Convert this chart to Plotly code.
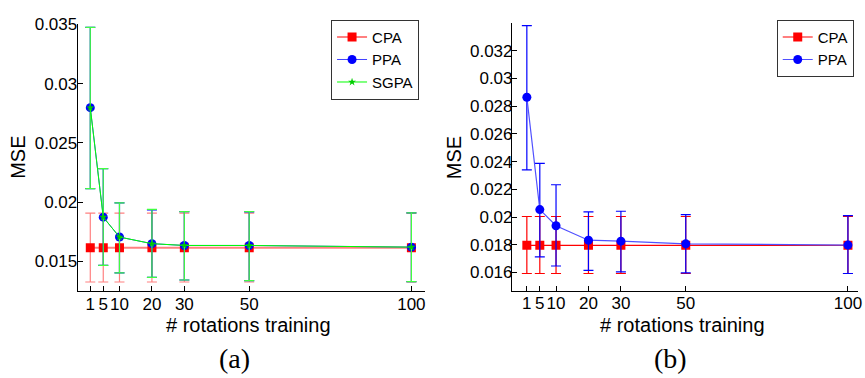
import plotly.graph_objects as go

rotations = [1, 5, 10, 20, 30, 50, 100]

# Panel (a)
a_cpa = [0.01615, 0.01615, 0.01615, 0.01615, 0.01615, 0.01615, 0.01615]
a_cpa_hi = [0.01907, 0.01907, 0.01907, 0.01907, 0.01907, 0.01907, 0.01907]
a_cpa_lo = [0.01327, 0.01327, 0.01327, 0.01327, 0.01327, 0.01327, 0.01327]
a_ppa = [0.02797, 0.01874, 0.01706, 0.01650, 0.01635, 0.01635, 0.01621]
a_ppa_hi = [0.03475, 0.02283, 0.01994, 0.01935, 0.01920, 0.01918, 0.01910]
a_ppa_lo = [0.02115, 0.01467, 0.01404, 0.01366, 0.01344, 0.01338, 0.01330]
a_sgpa = [0.02797, 0.01874, 0.01706, 0.01650, 0.01635, 0.01635, 0.01621]
a_sgpa_hi = [0.03475, 0.02283, 0.01994, 0.01940, 0.01920, 0.01920, 0.01910]
a_sgpa_lo = [0.02115, 0.01467, 0.01404, 0.01366, 0.01344, 0.01338, 0.01330]

# Panel (b)
b_cpa = [0.01796, 0.01796, 0.01796, 0.01796, 0.01796, 0.01796, 0.01796]
b_cpa_hi = [0.02004, 0.02004, 0.02004, 0.02004, 0.02004, 0.02004, 0.02004]
b_cpa_lo = [0.01593, 0.01593, 0.01593, 0.01593, 0.01593, 0.01593, 0.01593]
b_ppa = [0.02864, 0.02054, 0.01937, 0.01833, 0.01826, 0.01807, 0.01798]
b_ppa_hi = [0.03380, 0.02387, 0.02233, 0.02037, 0.02042, 0.02018, 0.02011]
b_ppa_lo = [0.02341, 0.01713, 0.01647, 0.01616, 0.01605, 0.01598, 0.01593]

a_yticks = [0.015, 0.02, 0.025, 0.03, 0.035]
a_yticktext = ["0.015", "0.02", "0.025", "0.03", "0.035"]
b_yticks = [0.016, 0.018, 0.02, 0.022, 0.024, 0.026, 0.028, 0.03, 0.032]
b_yticktext = ["0.016", "0.018", "0.02", "0.022", "0.024", "0.026", "0.028", "0.03", "0.032"]

FONT = "Liberation Sans, Arial, sans-serif"


def err(vals, hi, lo, color, width=5):
    return dict(
        type="data", symmetric=False,
        array=[h - v for h, v in zip(hi, vals)],
        arrayminus=[v - l for v, l in zip(vals, lo)],
        color=color, thickness=1.2, width=width,
    )


fig = go.Figure()

# ---- panel (a)
fig.add_trace(go.Scatter(
    x=rotations, y=a_cpa, name="CPA", mode="lines+markers",
    line=dict(color="#ff8080", width=2),
    marker=dict(symbol="square", size=9, color="#ff0000"),
    error_y=err(a_cpa, a_cpa_hi, a_cpa_lo, "#ff8080"),
    xaxis="x", yaxis="y", legend="legend",
))
fig.add_trace(go.Scatter(
    x=rotations, y=a_ppa, name="PPA", mode="lines+markers",
    line=dict(color="#4040ff", width=1),
    marker=dict(symbol="circle", size=9, color="#0000ff"),
    error_y=err(a_ppa, a_ppa_hi, a_ppa_lo, "#0000ff"),
    xaxis="x", yaxis="y", legend="legend",
))
fig.add_trace(go.Scatter(
    x=rotations, y=a_sgpa, name="SGPA", mode="lines+markers",
    line=dict(color="#00ff00", width=1),
    marker=dict(symbol="star", size=6, color="#00cc00"),
    error_y=err(a_sgpa, a_sgpa_hi, a_sgpa_lo, "#40ff40"),
    xaxis="x", yaxis="y", legend="legend",
))

# ---- panel (b)
fig.add_trace(go.Scatter(
    x=rotations, y=b_cpa, name="CPA", mode="lines+markers",
    line=dict(color="#ff0000", width=1.2),
    marker=dict(symbol="square", size=9, color="#ff0000"),
    error_y=err(b_cpa, b_cpa_hi, b_cpa_lo, "#ff0000"),
    xaxis="x2", yaxis="y2", legend="legend2",
))
fig.add_trace(go.Scatter(
    x=rotations, y=b_ppa, name="PPA", mode="lines+markers",
    line=dict(color="#5050ff", width=1.2),
    marker=dict(symbol="circle", size=9, color="#0000ff"),
    error_y=err(b_ppa, b_ppa_hi, b_ppa_lo, "#0000ff"),
    xaxis="x2", yaxis="y2", legend="legend2",
))

axis_common = dict(
    showline=True, linecolor="black", linewidth=1, mirror=False,
    showgrid=False, zeroline=False, ticks="inside", ticklen=5,
    tickcolor="black", tickwidth=1, ticklabeloverflow="allow",
    tickfont=dict(family=FONT, size=17, color="black"),
)

legend_common = dict(
    bgcolor="white", bordercolor="#333333", borderwidth=1,
    font=dict(family=FONT, size=15, color="black"),
    xanchor="right", yanchor="top", tracegroupgap=0,
)

fig.update_layout(
    width=865, height=378,
    margin=dict(l=0, r=0, t=0, b=0),
    paper_bgcolor="white", plot_bgcolor="white",
    font=dict(family=FONT, size=16, color="black"),
    xaxis=dict(axis_common, domain=[78 / 865, 427 / 865], range=[-2.9, 104.2],
               tickvals=rotations, ticktext=[str(r) for r in rotations], anchor="y",
               ticklabelstandoff=-3),
    yaxis=dict(axis_common, domain=[89 / 378, 362.3 / 378], range=[0.0125, 0.035],
               tickvals=a_yticks, ticktext=a_yticktext, anchor="x",
               ticklabelstandoff=-4),
    xaxis2=dict(axis_common, domain=[514.3 / 865, 862.3 / 865], range=[-3.6, 103.2],
                tickvals=rotations, ticktext=[str(r) for r in rotations], anchor="y2",
                ticklabelstandoff=-3),
    yaxis2=dict(axis_common, domain=[89.3 / 378, 364 / 378], range=[0.01468, 0.03402],
                tickvals=b_yticks, ticktext=b_yticktext, anchor="x2",
                ticklabelstandoff=-5),
    legend=dict(legend_common, x=421 / 865, y=(378 - 11) / 378),
    legend2=dict(legend_common, x=857.7 / 865, y=(378 - 11) / 378),
    showlegend=True,
)

annotations = [
    dict(text="MSE", x=18.5 / 865, y=(378 - 152) / 378, textangle=-90),
    dict(text="MSE", x=456 / 865, y=(378 - 152) / 378, textangle=-90),
    dict(text="# rotations training", x=249.5 / 865, y=(378 - 324) / 378),
    dict(text="# rotations training", x=686 / 865, y=(378 - 324) / 378),
]
for a in annotations:
    fig.add_annotation(xref="paper", yref="paper", showarrow=False,
                       xanchor="center", yanchor="middle",
                       font=dict(family=FONT, size=20, color="black"), **a)

for txt, cx in [("(a)", 236), ("(b)", 674)]:
    fig.add_annotation(xref="paper", yref="paper", showarrow=False,
                       x=cx / 865, y=(378 - 358) / 378, text=txt,
                       xanchor="center", yanchor="middle",
                       font=dict(family="Liberation Serif, DejaVu Serif, serif", size=28, color="black"))

fig.write_html("out.html")
